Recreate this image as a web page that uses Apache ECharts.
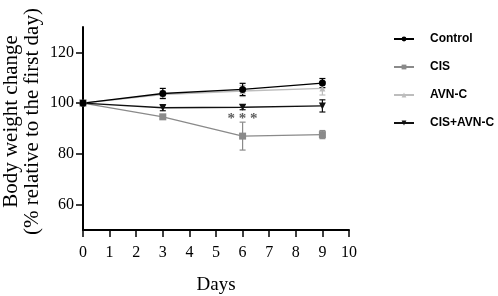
<!DOCTYPE html>
<html><head><meta charset="utf-8">
<script src="https://cdn.jsdelivr.net/npm/echarts@6/dist/echarts.min.js"></script>
<style>html,body{margin:0;padding:0;background:#fff}#c{width:498px;height:296px}</style>
</head><body><div id="c"></div>
<script>
const days = [0, 3, 6, 9];
const seriesNames = ['Control', 'CIS', 'AVN-C', 'CIS+AVN-C'];
const controlMean = [100, 103.8, 105.4, 107.9];
const controlErr  = [0, 2.0, 2.4, 1.8];
const cisMean     = [100, 94.6, 87.0, 87.6];
const cisErr      = [0, 0.8, 5.5, 1.6];
const avnMean     = [100, 103.4, 104.8, 105.8];
const avnErr      = [0, 1.5, 2.2, 2.6];
const comboMean   = [100, 98.2, 98.4, 98.9];
const comboErr    = [0, 1.2, 1.0, 2.4];
const yTicks = [60, 80, 100, 120];
const xTicks = [0,1,2,3,4,5,6,7,8,9,10];
const sigDay = [6];
const sigY = [93.5];
const sigLabel = '* * *';

const colors = ['#000000', '#8a8a8a', '#bdbdbd', '#111111'];
const symbols = ['circle', 'rect', 'triangle', 'triangle'];
const symRot = [0, 0, 0, 180];
const symSize = [7, 7, 6, 7];
const means = [controlMean, cisMean, avnMean, comboMean];
const errs = [controlErr, cisErr, avnErr, comboErr];
const serif = 'Liberation Serif';

const series = [];
const order = [2, 1, 3, 0];
order.forEach(i => {
  series.push({
    type: 'custom', name: seriesNames[i] + '_err', z: 2, silent: true,
    data: days.map((d, k) => [d, means[i][k] - errs[i][k], means[i][k] + errs[i][k]]),
    renderItem: function (params, api) {
      const x = api.value(0);
      const lo = api.coord([x, api.value(1)]);
      const hi = api.coord([x, api.value(2)]);
      if (Math.abs(hi[1] - lo[1]) < 0.5) return null;
      const w = 3;
      const st = { stroke: colors[i], lineWidth: 1.2 };
      return { type: 'group', children: [
        { type: 'line', shape: { x1: lo[0], y1: lo[1], x2: hi[0], y2: hi[1] }, style: st },
        { type: 'line', shape: { x1: lo[0]-w, y1: lo[1], x2: lo[0]+w, y2: lo[1] }, style: st },
        { type: 'line', shape: { x1: hi[0]-w, y1: hi[1], x2: hi[0]+w, y2: hi[1] }, style: st }
      ]};
    }
  });
  series.push({
    type: 'line', name: seriesNames[i], z: 3,
    data: days.map((d, k) => [d, means[i][k]]),
    symbol: symbols[i], symbolRotate: symRot[i], symbolSize: symSize[i], showAllSymbol: true,
    lineStyle: { color: colors[i], width: 1.4 },
    itemStyle: { color: colors[i] }
  });
});
series.push({
  type: 'scatter', name: 'sig', symbolSize: 0, silent: true,
  data: sigDay.map((d, k) => [d, sigY[k]]),
  label: { show: true, position: 'inside', formatter: sigLabel, fontFamily: serif, fontSize: 15, color: '#333', fontWeight: 'bold' }
});

const chart = echarts.init(document.getElementById('c'), null, { renderer: 'canvas' });
chart.setOption({
  animation: false,
  backgroundColor: '#fff',
  grid: { left: 83, right: 149, top: 27, bottom: 66, containLabel: false, outerBoundsMode: 'none' },
  legend: {
    orient: 'vertical', left: 388, top: 28, itemGap: 16, itemWidth: 20, itemHeight: 6,
    data: seriesNames,
    textStyle: { fontFamily: 'Liberation Sans', fontWeight: 'bold', fontSize: 12, color: '#000', padding: [0, 0, 0, 11] },
    selectedMode: false
  },
  xAxis: {
    type: 'value', min: 0, max: 10, interval: 1,
    name: 'Days', nameLocation: 'middle', nameGap: 46, nameMoveOverlap: false,
    nameTextStyle: { fontFamily: serif, fontSize: 19, color: '#000' },
    axisLine: { lineStyle: { color: '#000', width: 2 } },
    axisTick: { show: true, length: 7, lineStyle: { color: '#000', width: 1.5 } },
    axisLabel: { fontFamily: serif, fontSize: 16, color: '#000', margin: 15 },
    splitLine: { show: false }
  },
  yAxis: {
    type: 'value', min: 50, max: 130,
    name: 'Body weight change\n(% relative to the first day)', nameLocation: 'middle', nameGap: 40, nameMoveOverlap: false,
    nameTextStyle: { fontFamily: serif, fontSize: 21, color: '#000', lineHeight: 21, padding: [0, 0, 0, 14] },
    axisLine: { show: true, lineStyle: { color: '#000', width: 2 } },
    axisTick: { show: true, length: 7, customValues: yTicks, lineStyle: { color: '#000', width: 1.5 } },
    axisLabel: { fontFamily: serif, fontSize: 16, color: '#000', margin: 9, customValues: yTicks },
    splitLine: { show: false }
  },
  series: series
});
</script></body></html>
